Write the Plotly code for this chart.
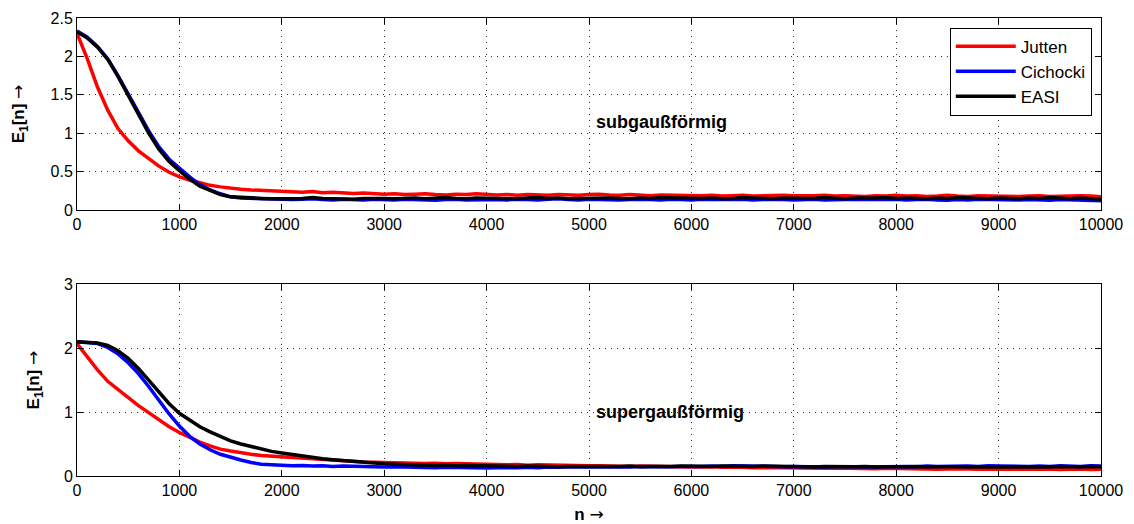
import plotly.graph_objects as go
from plotly.subplots import make_subplots

n = list(range(0, 10001, 100))

# subgaussian (top)
sub_jutten = [2.30,1.97,1.60,1.30,1.06,0.90,0.77,0.67,0.57,0.49,0.43,0.39,0.35,0.32,0.30,0.28,0.27,0.26,0.255,0.25,0.24,
              0.245,0.23,0.24,0.225,0.23,0.22,0.215,0.22,0.21,0.205,
              0.21,0.20,0.205,0.21,0.20,0.195,0.205,0.20,0.21,0.20,
              0.195,0.20,0.19,0.20,0.195,0.19,0.20,0.195,0.19,0.20,
              0.205,0.195,0.19,0.20,0.19,0.185,0.195,0.19,0.185,0.19,
              0.185,0.19,0.18,0.185,0.19,0.18,0.185,0.18,0.19,0.185,
              0.18,0.185,0.19,0.18,0.185,0.18,0.175,0.185,0.18,0.19,
              0.18,0.185,0.175,0.18,0.19,0.18,0.175,0.185,0.18,0.185,
              0.18,0.175,0.18,0.185,0.175,0.18,0.19,0.185,0.18,0.17]
sub_cichocki = [2.33,2.25,2.13,1.97,1.75,1.52,1.27,1.03,0.82,0.66,0.54,0.43,0.33,0.26,0.21,0.17,0.155,0.15,0.145,0.14,0.13,
                0.135,0.14,0.145,0.135,0.13,0.14,0.135,0.13,0.14,0.135,
                0.13,0.14,0.135,0.13,0.125,0.135,0.14,0.13,0.135,0.14,
                0.135,0.13,0.14,0.135,0.13,0.14,0.145,0.135,0.13,0.14,
                0.135,0.14,0.13,0.135,0.14,0.135,0.13,0.14,0.135,0.13,
                0.14,0.135,0.13,0.135,0.14,0.13,0.135,0.14,0.135,0.13,
                0.135,0.14,0.13,0.135,0.13,0.14,0.135,0.13,0.135,0.14,
                0.13,0.135,0.14,0.13,0.125,0.135,0.13,0.14,0.135,0.13,
                0.125,0.13,0.135,0.13,0.125,0.135,0.13,0.135,0.13,0.12]
sub_easi = [2.32,2.24,2.12,1.96,1.74,1.50,1.24,1.00,0.79,0.63,0.51,0.40,0.31,0.25,0.20,0.17,0.16,0.155,0.15,0.145,0.14,
            0.145,0.15,0.16,0.15,0.145,0.15,0.14,0.15,0.155,0.15,
            0.145,0.15,0.155,0.145,0.15,0.16,0.15,0.145,0.155,0.15,
            0.155,0.15,0.145,0.155,0.16,0.15,0.155,0.145,0.15,0.155,
            0.16,0.155,0.15,0.145,0.155,0.15,0.16,0.155,0.15,0.155,
            0.15,0.155,0.145,0.15,0.16,0.155,0.15,0.145,0.155,0.15,
            0.155,0.15,0.16,0.15,0.145,0.155,0.15,0.155,0.16,0.15,
            0.155,0.15,0.145,0.155,0.15,0.16,0.155,0.15,0.145,0.155,
            0.15,0.145,0.155,0.15,0.16,0.15,0.145,0.155,0.15,0.14]

# supergaussian (bottom)
sup_jutten = [2.07,1.86,1.66,1.48,1.35,1.22,1.10,0.99,0.88,0.77,0.68,0.60,0.53,0.47,0.42,0.39,0.36,0.34,0.32,0.31,0.30,
              0.285,0.27,0.26,0.25,0.24,0.235,0.225,0.22,0.215,0.21,
              0.205,0.20,0.205,0.195,0.20,0.19,0.195,0.19,0.185,0.18,
              0.18,0.175,0.18,0.17,0.175,0.17,0.165,0.17,0.165,0.16,
              0.16,0.155,0.16,0.15,0.155,0.15,0.145,0.15,0.145,0.14,
              0.14,0.145,0.135,0.14,0.135,0.13,0.135,0.13,0.13,0.125,
              0.13,0.125,0.12,0.125,0.12,0.125,0.12,0.115,0.12,0.115,
              0.11,0.115,0.11,0.105,0.11,0.115,0.11,0.105,0.11,0.105,
              0.11,0.105,0.10,0.105,0.11,0.10,0.105,0.11,0.10,0.105]
sup_cichocki = [2.10,2.09,2.07,2.01,1.91,1.77,1.60,1.40,1.18,0.97,0.78,0.62,0.50,0.41,0.34,0.29,0.25,0.21,0.185,0.175,0.165,
                0.16,0.165,0.155,0.16,0.15,0.155,0.15,0.145,0.15,0.14,
                0.145,0.14,0.135,0.14,0.13,0.135,0.13,0.135,0.13,0.125,
                0.13,0.125,0.13,0.135,0.13,0.14,0.135,0.145,0.14,0.14,
                0.145,0.14,0.145,0.14,0.15,0.145,0.14,0.145,0.15,0.145,
                0.15,0.155,0.15,0.16,0.155,0.15,0.145,0.15,0.145,0.15,
                0.145,0.15,0.14,0.145,0.15,0.145,0.14,0.145,0.15,0.145,
                0.15,0.145,0.155,0.15,0.155,0.16,0.155,0.15,0.16,0.155,
                0.15,0.145,0.15,0.155,0.15,0.16,0.155,0.15,0.16,0.155]
sup_easi = [2.10,2.09,2.08,2.04,1.96,1.84,1.68,1.50,1.31,1.13,0.98,0.87,0.77,0.69,0.62,0.55,0.50,0.46,0.42,0.385,0.36,
            0.335,0.31,0.29,0.27,0.255,0.24,0.225,0.21,0.20,0.19,
            0.185,0.18,0.17,0.175,0.165,0.17,0.16,0.165,0.16,0.155,
            0.16,0.155,0.15,0.155,0.15,0.155,0.145,0.15,0.155,0.15,
            0.15,0.145,0.15,0.155,0.145,0.15,0.145,0.15,0.155,0.15,
            0.145,0.15,0.155,0.15,0.145,0.15,0.155,0.15,0.145,0.14,
            0.145,0.14,0.15,0.145,0.14,0.145,0.15,0.14,0.145,0.14,
            0.145,0.15,0.14,0.145,0.15,0.145,0.14,0.145,0.15,0.145,
            0.14,0.145,0.15,0.145,0.14,0.15,0.145,0.14,0.15,0.145]

names = ["Jutten", "Cichocki", "EASI"]
colors = ["#ff0000", "#0000ff", "#000000"]
x_ticks = list(range(0, 10001, 1000))
x_ticklabels = [str(v) for v in x_ticks]
top_ticks = [0, 0.5, 1, 1.5, 2, 2.5]
top_ticklabels = ["0", "0.5", "1", "1.5", "2", "2.5"]
bot_ticks = [0, 1, 2, 3]
bot_ticklabels = ["0", "1", "2", "3"]

FONT = "Liberation Sans, Arial, sans-serif"
ARROW = '<span style="font-family:DejaVu Sans;font-weight:normal">→</span>'
ylabel = "<b>E<sub>1</sub>[n]</b> " + ARROW
xlabel = "<b>n</b> " + ARROW

fig = make_subplots(rows=2, cols=1, vertical_spacing=0.16)
for nm, c, ys in zip(names, colors, [sub_jutten, sub_cichocki, sub_easi]):
    fig.add_trace(go.Scatter(x=n, y=ys, mode="lines", name=nm,
                             line=dict(color=c, width=3.5), showlegend=True), row=1, col=1)
for nm, c, ys in zip(names, colors, [sup_jutten, sup_cichocki, sup_easi]):
    fig.add_trace(go.Scatter(x=n, y=ys, mode="lines", name=nm,
                             line=dict(color=c, width=3.5), showlegend=False), row=2, col=1)

axis_common = dict(showline=True, linecolor="black", linewidth=1, mirror="ticks",
                   ticks="inside", ticklen=6, tickcolor="black", automargin=False,
                   showgrid=True, gridcolor="rgba(0,0,0,0.8)", griddash="1px,5px", gridwidth=1,
                   zeroline=False, tickfont=dict(family=FONT, size=16, color="black"))

fig.update_xaxes(range=[0, 10000], tickvals=x_ticks, ticktext=x_ticklabels, **axis_common)
fig.update_xaxes(domain=[0, 1])
fig.update_yaxes(**axis_common)
fig.update_yaxes(row=1, col=1, range=[0, 2.5], tickvals=top_ticks, ticktext=top_ticklabels,
                 domain=[0.581, 1.0],
                 title=dict(text=ylabel, font=dict(family=FONT, size=17, color="black"), standoff=21))
fig.update_yaxes(row=2, col=1, range=[0, 3], tickvals=bot_ticks, ticktext=bot_ticklabels,
                 domain=[0, 0.419],
                 title=dict(text=ylabel, font=dict(family=FONT, size=17, color="black"), standoff=19))
fig.update_xaxes(row=2, col=1, title=dict(text=xlabel, font=dict(family=FONT, size=17, color="black"), standoff=10))

fig.add_annotation(x=5050, y=1.15, xref="x", yref="y", text="<b>subgaußförmig</b>",
                   showarrow=False, xanchor="left", yanchor="middle",
                   font=dict(family=FONT, size=18, color="black"))
fig.add_annotation(x=5050, y=1.0, xref="x2", yref="y2", text="<b>supergaußförmig</b>",
                   showarrow=False, xanchor="left", yanchor="middle",
                   font=dict(family=FONT, size=18, color="black"))

fig.update_layout(
    width=1126, height=516,
    margin=dict(l=69, r=33, t=10, b=48),
    paper_bgcolor="white", plot_bgcolor="white",
    font=dict(family=FONT, size=16, color="black"),
    legend=dict(x=0.991, y=0.979, xanchor="right", yanchor="top",
                bgcolor="white", bordercolor="black", borderwidth=1,
                font=dict(family=FONT, size=17, color="black"),
                tracegroupgap=0, itemwidth=60),
)

fig.write_html("out.html")
